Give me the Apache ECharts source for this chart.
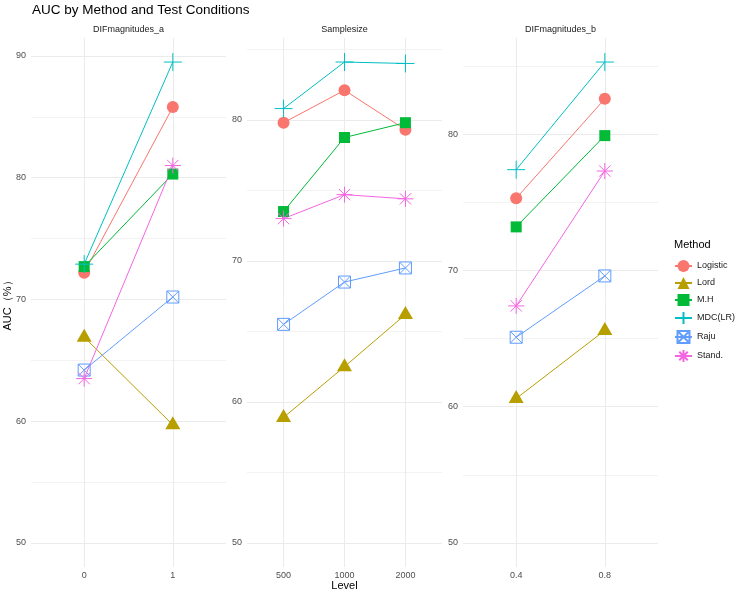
<!DOCTYPE html>
<html>
<head>
<meta charset="utf-8">
<script src="https://cdn.jsdelivr.net/npm/echarts@6/dist/echarts.min.js"></script>
<style>html,body{margin:0;padding:0;background:#fff;}#c{width:740px;height:592px;}</style>
</head>
<body>
<div id="c"></div>
<script>
// ---- data ----
const methods = ['Logistic', 'Lord', 'M.H', 'MDC(LR)', 'Raju', 'Stand.'];
const facetTitles = ['DIFmagnitudes_a', 'Samplesize', 'DIFmagnitudes_b'];
const levelsA = ['0', '1'];
const levelsS = ['500', '1000', '2000'];
const levelsB = ['0.4', '0.8'];
// rows follow `methods`
const aucA = [
  [72.2, 85.8],
  [66.9, 59.7],
  [72.7, 80.3],
  [72.9, 89.5],
  [64.2, 70.2],
  [63.5, 81.0]
];
const aucS = [
  [79.8, 82.1, 79.3],
  [58.9, 62.5, 66.2],
  [73.5, 78.75, 79.8],
  [80.8, 84.1, 84.0],
  [65.5, 68.5, 69.5],
  [73.0, 74.7, 74.4]
];
const aucB = [
  [75.3, 82.6],
  [60.6, 65.6],
  [73.2, 79.9],
  [77.4, 85.3],
  [65.1, 69.6],
  [67.4, 77.3]
];
const yTicksA = [50, 60, 70, 80, 90];
const yTicksS = [50, 60, 70, 80];
const yTicksB = [50, 60, 70, 80];
const yMinor = [55, 65, 75, 85];
const yLowerLimit = 50;

// ---- styling ----
const colors = ['#F8766D', '#B79F00', '#00BA38', '#00BFC4', '#619CFF', '#F564E3'];
const PLUS = 'path://M5,0L5,10M0,5L10,5';
const SQX = 'path://M0,0L10,0L10,10L0,10ZM0,0L10,10M10,0L0,10';
const AST = 'path://M5,0L5,10M0,5L10,5M1.46,1.46L8.54,8.54M8.54,1.46L1.46,8.54';
const symbolSpec = [
  {symbol: 'circle', size: 12},
  {symbol: 'triangle', size: [15, 13], offset: [0, -2]},
  {symbol: 'rect', size: 11},
  {symbol: PLUS, size: 18, stroke: true},
  {symbol: SQX, size: 12, stroke: true},
  {symbol: AST, size: 16, stroke: true}
];
const FONT = '"Liberation Sans", Arial, Helvetica, sans-serif';
const panels = [
  {levels: levelsA, data: aucA, ticks: yTicksA, left: 31},
  {levels: levelsS, data: aucS, ticks: yTicksS, left: 247},
  {levels: levelsB, data: aucB, ticks: yTicksB, left: 463}
];
const PW = 195, PT = 38, PH = 529;

const grids = [], xAxes = [], yAxes = [], series = [];
panels.forEach((p, pi) => {
  grids.push({left: p.left, top: PT, width: PW, height: PH, containLabel: false, outerBoundsMode: 'none'});
  const idx = p.levels.map((_, i) => i);
  xAxes.push({
    type: 'value', gridIndex: pi, min: -0.6, max: p.levels.length - 0.4,
    axisLine: {show: false},
    axisTick: {show: false, customValues: idx},
    axisLabel: {customValues: idx, formatter: v => p.levels[Math.round(v)], color: '#4D4D4D', fontSize: 9, margin: 4, fontFamily: FONT},
    splitLine: {show: true, lineStyle: {color: '#EBEBEB', width: 1}}
  });
  let hi = -Infinity;
  p.data.forEach(r => r.forEach(v => { if (v > hi) hi = v; }));
  const span = hi - yLowerLimit;
  const ymin = yLowerLimit - 0.05 * span, ymax = hi + 0.05 * span;
  yAxes.push({
    type: 'value', gridIndex: pi, min: ymin, max: ymax,
    axisLine: {show: false},
    axisTick: {show: false, customValues: p.ticks},
    axisLabel: {customValues: p.ticks, color: '#4D4D4D', fontSize: 9, margin: 5, fontFamily: FONT},
    splitLine: {show: true, lineStyle: {color: '#EBEBEB', width: 1}}
  });
  yAxes.push({
    type: 'value', gridIndex: pi, min: ymin, max: ymax,
    axisLine: {show: false},
    axisTick: {show: false, customValues: yMinor},
    axisLabel: {show: false, customValues: yMinor},
    splitLine: {show: true, lineStyle: {color: '#F3F3F3', width: 1}}
  });
  methods.forEach((m, mi) => {
    const s = symbolSpec[mi];
    const c = colors[mi];
    series.push({
      type: 'line', name: m, xAxisIndex: pi, yAxisIndex: pi * 2,
      data: p.data[mi].map((v, i) => [i, v]),
      symbol: s.symbol, symbolSize: s.size, symbolOffset: s.offset || [0, 0],
      showSymbol: true, showAllSymbol: true,
      lineStyle: {color: c, width: 1},
      itemStyle: s.stroke ? {color: 'rgba(0,0,0,0)', borderColor: c, borderWidth: 1} : {color: c, borderWidth: 0},
      emphasis: {disabled: true},
      animation: false
    });
  });
});

const chart = echarts.init(document.getElementById('c'), null, {renderer: 'canvas'});
chart.setOption({
  backgroundColor: '#ffffff',
  animation: false,
  textStyle: {fontFamily: FONT},
  title: {text: 'AUC by Method and Test Conditions', left: 32, top: 3, padding: 0, textStyle: {fontSize: 13.5, fontWeight: 'normal', color: '#000', fontFamily: FONT}},
  grid: grids,
  xAxis: xAxes,
  yAxis: yAxes,
  legend: {
    data: methods, orient: 'vertical', left: 669, top: 255,
    itemWidth: 17, itemHeight: 15, itemGap: 5,
    textStyle: {fontSize: 9, color: '#1A1A1A', fontFamily: FONT},
    selectedMode: false
  },
  graphic: [
    {type: 'text', x: 128.5, y: 30, style: {text: facetTitles[0], fill: '#1A1A1A', fontSize: 9, fontFamily: FONT, align: 'center', verticalAlign: 'middle'}},
    {type: 'text', x: 344.5, y: 30, style: {text: facetTitles[1], fill: '#1A1A1A', fontSize: 9, fontFamily: FONT, align: 'center', verticalAlign: 'middle'}},
    {type: 'text', x: 560.5, y: 30, style: {text: facetTitles[2], fill: '#1A1A1A', fontSize: 9, fontFamily: FONT, align: 'center', verticalAlign: 'middle'}},
    {type: 'text', x: 344.5, y: 586, style: {text: 'Level', fill: '#000', fontSize: 11, fontFamily: FONT, align: 'center', verticalAlign: 'middle'}},
    {type: 'text', x: 8, y: 303, rotation: Math.PI / 2, style: {text: 'AUC（%）', fill: '#000', fontSize: 11, fontFamily: FONT, align: 'center', verticalAlign: 'middle'}},
    {type: 'text', x: 674, y: 245, style: {text: 'Method', fill: '#000', fontSize: 11, fontFamily: FONT, align: 'left', verticalAlign: 'middle'}}
  ],
  series: series
});
</script>
</body>
</html>
